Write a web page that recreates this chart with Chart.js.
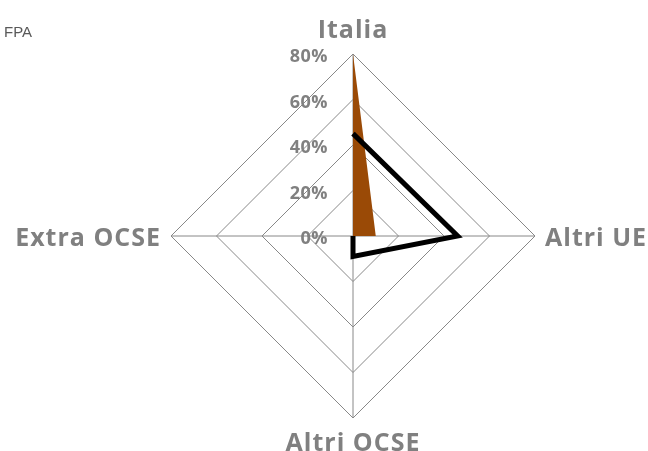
<!DOCTYPE html>
<html>
<head>
<meta charset="utf-8">
<script src="https://cdn.jsdelivr.net/npm/chart.js@4/dist/chart.umd.min.js"></script>
<style>
  html, body { margin: 0; padding: 0; background: #ffffff; }
  #wrap { width: 648px; height: 451px; position: relative; }
</style>
</head>
<body>
<div id="wrap"><canvas id="c" width="648" height="451"></canvas></div>
<script>
// ---- data ----
const categories = ['Italia', 'Altri UE', 'Altri OCSE', 'Extra OCSE'];
const seriesBrown = [80, 10, 0, 0];
const seriesBlack = [45, 46, 9, 0];
const tickValues = [0, 20, 40, 60, 80];
const tickLabels = ['0%', '20%', '40%', '60%', '80%'];
const cornerText = 'FPA';

// ---- style ----
const grey = '#808080';
const gridGrey = '#888888';
const labelFontCss = 'bold 25px "Open Sans"';
const tickFontCss = 'bold 18px "Open Sans"';
const LABEL_GAP = 10;
const CAP = 17;

const overlay = {
  id: 'overlay',
  afterDatasetUpdate(chart, args) {
    // the black outline is drawn as an open path (no closing segment)
    if (args.index !== 0) return;
    const line = args.meta.dataset;
    line._fullLoop = false;
    delete line._segments;
    delete line._path;
  },
  afterDatasetsDraw(chart) {
    const ctx = chart.ctx;
    const s = chart.scales.r;
    ctx.save();
    // tick labels, right-aligned left of the vertical axis
    ctx.fillStyle = grey;
    ctx.font = tickFontCss;
    ctx.letterSpacing = '0.5px';
    ctx.textAlign = 'right';
    ctx.textBaseline = 'alphabetic';
    tickValues.forEach((v, i) => {
      const d = s.getDistanceFromCenterForValue(v);
      ctx.fillText(tickLabels[i], s.xCenter - 25, s.yCenter - d + 8);
    });
    // category labels
    ctx.font = labelFontCss;
    ctx.letterSpacing = '1px';
    categories.forEach((lab, i) => {
      const p = s.getPointPosition(i, s.drawingArea);
      if (i === 0) {
        ctx.textAlign = 'center';
        ctx.fillText(lab, p.x, p.y - 16);
      } else if (i === 1) {
        ctx.textAlign = 'left';
        ctx.fillText(lab, p.x + LABEL_GAP, p.y + CAP / 2 + 1);
      } else if (i === 2) {
        ctx.textAlign = 'center';
        ctx.fillText(lab, p.x, p.y + 15 + CAP + 1);
      } else {
        ctx.textAlign = 'right';
        ctx.fillText(lab, p.x - LABEL_GAP, p.y + CAP / 2 + 1);
      }
    });
    ctx.restore();
  },
  afterDraw(chart) {
    const ctx = chart.ctx;
    ctx.save();
    ctx.fillStyle = '#595959';
    ctx.font = '15px "Liberation Sans"';
    ctx.textAlign = 'left';
    ctx.textBaseline = 'alphabetic';
    ctx.fillText(cornerText, 4, 37);
    ctx.restore();
  }
};

new Chart(document.getElementById('c'), {
  type: 'radar',
  data: {
    labels: categories,
    datasets: [
      {
        label: 'black',
        data: seriesBlack,
        borderColor: '#000000',
        borderWidth: 5,
        borderJoinStyle: 'miter',
        backgroundColor: 'rgba(0,0,0,0)',
        fill: false,
        pointRadius: 0,
        pointHoverRadius: 0,
        order: 0
      },
      {
        label: 'brown',
        data: seriesBrown,
        borderWidth: 0,
        borderColor: 'rgba(0,0,0,0)',
        backgroundColor: '#9a4a06',
        fill: true,
        pointRadius: 0,
        pointHoverRadius: 0,
        order: 1
      }
    ]
  },
  options: {
    responsive: false,
    animation: false,
    events: [],
    layout: { padding: { left: 171, right: 113, top: 54, bottom: 33 } },
    plugins: {
      legend: { display: false },
      title: { display: false },
      tooltip: { enabled: false }
    },
    elements: { line: { tension: 0 } },
    scales: {
      r: {
        min: 0,
        max: 80,
        beginAtZero: true,
        ticks: { display: false, stepSize: 20 },
        grid: { circular: false, color: gridGrey, lineWidth: 1 },
        angleLines: { display: true, color: gridGrey, lineWidth: 1 },
        pointLabels: { display: false }
      }
    }
  },
  plugins: [overlay]
});
</script>
</body>
</html>
